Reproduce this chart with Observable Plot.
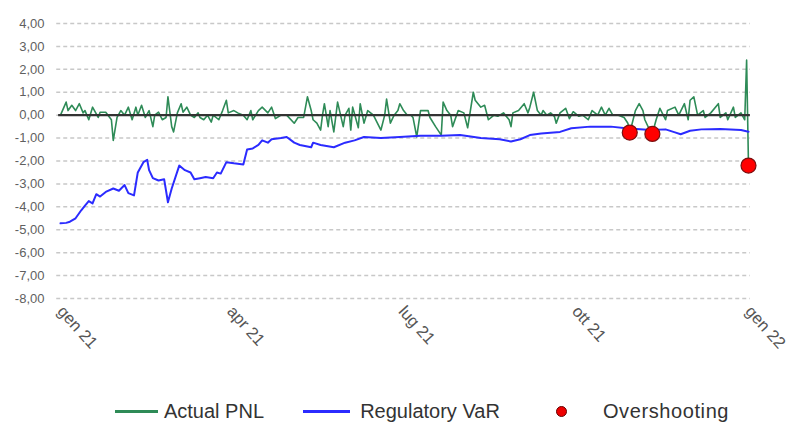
<!DOCTYPE html>
<html>
<head>
<meta charset="utf-8">
<script src="https://cdn.jsdelivr.net/npm/d3@7"></script>
<script src="https://cdn.jsdelivr.net/npm/@observablehq/plot@0.6"></script>
<style>
  body { margin: 0; background: #fff; font-family: "Liberation Sans", Arial, sans-serif; }
  #chart { width: 796px; position: relative; }
  .legend { position: relative; width: 796px; height: 56px; font-size: 20px; color: #333; }
  .legend .sw { position: absolute; top: 40px; height: 3px; }
  .legend .txt { position: absolute; top: 29px; line-height: 24px; white-space: nowrap; transform: translateX(-50%); }
  .legend .dot { position: absolute; top: 36px; width: 9px; height: 9px; border-radius: 50%; background: #e00; border: 1px solid #600; }
</style>
</head>
<body>
<div id="chart"></div>
<script>
// Day offsets from 1 Jan 2021 and values
const pnlDays = [0,3,4,6,8,10,12,13,15,17,20,21,24,27,28,30,32,34,36,38,40,41,43,45,47,49,50,52,54,56,57,59,60,62,64,65,67,69,71,73,74,76,78,80,81,84,86,88,89,92,94,97,99,101,102,105,107,110,112,114,117,120,124,126,129,131,133,134,136,138,139,140,142,143,145,147,150,151,153,154,155,158,159,161,163,166,170,172,173,175,177,179,180,182,184,186,187,189,191,193,195,196,199,202,203,205,207,208,211,214,216,219,220,223,225,227,230,232,235,238,239,240,243,246,248,249,251,253,255,256,258,260,262,263,265,268,270,272,275,277,280,282,285,287,289,291,293,296,299,301,302,305,307,309,310,312,314,316,318,321,322,326,328,331,333,334,336,338,341,342,345,349,350,353,354,357,358,361,363,364,365];
const pnlValues = [0,0.57,0.2,0.43,0.2,0.5,0.1,0.2,-0.2,0.35,-0.1,0.13,0.13,-0.2,-1.1,-0.1,0.2,0,0.35,-0.2,0.35,0,0.43,-0.1,0.2,-0.5,0,0.13,-0.2,-0.1,0.8,-0.5,-0.73,0.1,0.5,0.13,0.35,0,-0.1,0.1,-0.1,-0.2,0,-0.3,0,-0.2,0.2,0.65,0.1,0.2,0.1,0,-0.2,0.2,-0.2,0.2,0.35,0.1,0.35,-0.15,0,0,-0.35,-0.1,-0.1,0.8,0.2,-0.2,-0.35,-0.65,0,0.5,-0.5,0.2,-0.73,0.57,-0.5,0,0.3,-0.65,0.35,-0.55,0.5,-0.35,0.2,0,-0.65,0,0.7,-0.35,0,0.2,0.5,0.2,0,0,-0.1,-0.95,0.2,0.2,0.2,-0.1,-0.5,-0.87,0.57,0.2,0,-0.5,0.2,0.1,-0.55,1.0,0.65,0.35,0.43,-0.2,0,-0.05,0.1,-0.2,-0.5,0.1,0.2,0.5,0.1,0.35,1.0,0.2,0,0.2,0,0.1,-0.05,-0.35,0.1,0.3,-0.15,0.15,-0.05,0,-0.2,0.2,0,0.35,0,0.3,0,0,-0.1,-0.35,-0.78,0.2,0.5,0.2,-0.2,-0.55,-0.8,-0.2,0.3,-0.2,0.2,0.35,0,0.5,-0.2,0.65,0.8,0,0.2,-0.1,0.1,0.5,-0.1,0.1,-0.2,0.35,-0.1,0.1,-0.2,2.4,-2.2];
const varDays = [0,3,5,8,11,13,15,17,19,21,24,28,31,34,36,39,41,44,46,47,49,52,55,57,59,63,66,69,71,74,77,81,83,85,88,92,97,99,102,105,107,110,112,117,120,124,127,133,134,138,145,151,156,161,170,180,191,202,212,223,233,239,244,249,255,265,271,281,292,300,313,321,326,329,334,340,350,361,365];
const varValues = [-4.72,-4.7,-4.65,-4.5,-4.15,-3.95,-3.75,-3.85,-3.45,-3.55,-3.35,-3.2,-3.3,-3.05,-3.4,-3.5,-2.5,-2.05,-1.95,-2.4,-2.75,-2.85,-2.8,-3.8,-3.2,-2.2,-2.4,-2.5,-2.8,-2.75,-2.7,-2.75,-2.5,-2.55,-2.05,-2.1,-2.15,-1.5,-1.45,-1.3,-1.1,-1.2,-1.05,-1.0,-0.95,-1.2,-1.3,-1.4,-1.2,-1.3,-1.4,-1.2,-1.1,-0.95,-1.0,-0.95,-0.9,-0.9,-0.87,-1.0,-1.05,-1.15,-1.05,-0.87,-0.8,-0.73,-0.57,-0.5,-0.5,-0.57,-0.65,-0.62,-0.75,-0.83,-0.68,-0.62,-0.6,-0.65,-0.72];
const overDays = [302, 314, 365];
const overValues = [-0.76, -0.82, -2.2];
const xTickMonths = [[2021,0],[2021,3],[2021,6],[2021,9],[2022,0]];
const xTickLabels = ["gen 21","apr 21","lug 21","ott 21","gen 22"];
const yTicks = [4,3,2,1,0,-1,-2,-3,-4,-5,-6,-7,-8];
const seriesNames = ["Actual PNL", "Regulatory VaR", "Overshooting"];
const seriesColors = ["#2e8b57", "#2b2bff", "#ff0000"];

const day = d => new Date(Date.UTC(2021, 0, 1 + d));
const pnl = pnlDays.map((d, i) => ({date: day(d), value: pnlValues[i]}));
const vaR = varDays.map((d, i) => ({date: day(d), value: varValues[i]}));
const over = overDays.map((d, i) => ({date: day(d), value: overValues[i]}));
const xTicks = xTickMonths.map(([y, m]) => new Date(Date.UTC(y, m, 1)));
const labelOf = new Map(xTicks.map((t, i) => [+t, xTickLabels[i]]));

const chart = Plot.plot({
  width: 796,
  height: 370,
  marginTop: 23,
  marginBottom: 72,
  marginLeft: 60,
  marginRight: 48,
  style: {fontFamily: "'Liberation Sans', Arial, sans-serif", background: "#fff"},
  x: {type: "utc", domain: [xTicks[0], xTicks[4]]},
  y: {domain: [-8, 4]},
  marks: [
    Plot.gridY(yTicks, {stroke: "#c8c8c8", strokeOpacity: 1, strokeWidth: 1.5, strokeDasharray: "4,3", x1: day(-2), x2: day(366)}),
    Plot.axisY(yTicks, {tickSize: 0, tickPadding: 16, fontSize: 13, fill: "#5f5f5f", tickFormat: d => d.toFixed(2).replace(".", ","), label: null}),
    Plot.axisX(xTicks, {tickSize: 0, tickPadding: 10, tickRotate: 48, fontSize: 16.5, fill: "#555", tickFormat: d => labelOf.get(+d), label: null}),
    Plot.line(pnl, {x: "date", y: "value", stroke: seriesColors[0], strokeWidth: 1.6}),
    Plot.ruleY([0], {x1: day(-1), x2: day(366), stroke: "#333", strokeWidth: 2.2}),
    Plot.line(vaR, {x: "date", y: "value", stroke: seriesColors[1], strokeWidth: 2}),
    Plot.dot(over, {x: "date", y: "value", r: 7.5, fill: seriesColors[2], stroke: "#7a1010", strokeWidth: 1.2})
  ]
});
document.getElementById("chart").appendChild(chart);

const legend = document.createElement("div");
legend.className = "legend";
legend.innerHTML = `
  <span class="sw" style="left:115px;width:43px;background:${seriesColors[0]}"></span>
  <span class="txt" style="left:214px">${seriesNames[0]}</span>
  <span class="sw" style="left:303px;width:47px;background:${seriesColors[1]}"></span>
  <span class="txt" style="left:430px">${seriesNames[1]}</span>
  <span class="dot" style="left:556px"></span>
  <span class="txt" style="left:666px;letter-spacing:0.6px">${seriesNames[2]}</span>`;
document.getElementById("chart").appendChild(legend);
</script>
</body>
</html>
